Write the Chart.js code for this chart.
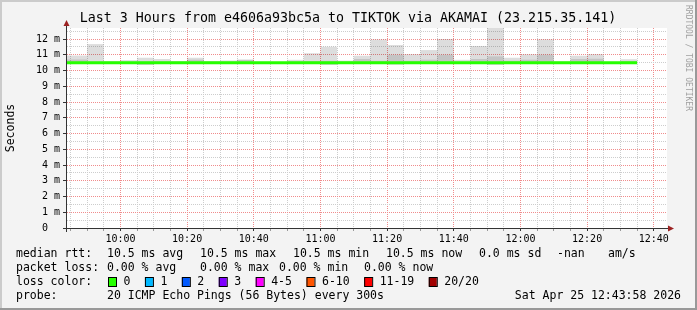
<!DOCTYPE html>
<html>
<head>
<meta charset="utf-8">
<script src="https://cdn.jsdelivr.net/npm/chart.js@4.4.1/dist/chart.umd.min.js"></script>
<style>
  html, body { margin: 0; padding: 0; background: #f3f3f3; }
  #wrap { width: 697px; height: 310px; }
</style>
</head>
<body>
<div id="wrap"><canvas id="chartSmoke" width="697" height="310"></canvas></div>
<script>
// time window of the graph
const startTime = '9:43:58';
const endTime = '12:43:58';

// one entry per 5 minute rrd step (start of the step)
const slotStart = [
    '9:40', '9:45', '9:50', '9:55', '10:00', '10:05', '10:10', '10:15', '10:20', '10:25',
    '10:30', '10:35', '10:40', '10:45', '10:50', '10:55', '11:00', '11:05', '11:10', '11:15',
    '11:20', '11:25', '11:30', '11:35', '11:40', '11:45', '11:50', '11:55', '12:00', '12:05',
    '12:10', '12:15', '12:20', '12:25', '12:30'
];
// smoke (ms): lowest ping, highest ping, top of the denser core
const smokeLo = [
    10.44, 10.44, 10.44, 10.44, 10.44, 10.37, 10.44, 10.44, 10.44, 10.44,
    10.44, 10.44, 10.44, 10.44, 10.44, 10.44, 10.37, 10.44, 10.44, 10.44,
    10.38, 10.44, 10.44, 10.44, 10.44, 10.44, 10.37, 10.44, 10.44, 10.44,
    10.44, 10.44, 10.44, 10.44, 10.44
];
const smokeHi = [
    10.95, 10.95, 11.68, 10.60, 10.66, 10.81, 10.73, 10.60, 10.81, 10.60,
    10.64, 10.69, 10.56, 10.53, 10.68, 11.10, 11.51, 10.63, 10.94, 11.97,
    11.62, 11.04, 11.30, 12.00, 10.68, 11.56, 12.75, 10.81, 11.03, 11.98,
    10.58, 10.94, 11.04, 10.55, 10.72
];
const coreHi = [
    10.70, 10.70, 10.56, 10.52, 10.56, 10.58, 10.58, 10.55, 10.69, 10.55,
    10.56, 10.69, 10.54, 10.52, 10.58, 10.60, 10.62, 10.58, 10.73, 10.62,
    11.00, 10.62, 10.69, 11.00, 10.56, 10.73, 10.90, 10.62, 10.69, 11.00,
    10.55, 10.73, 10.75, 10.53, 10.60
];
const medianRtt = [
    10.5, 10.5, 10.5, 10.5, 10.5, 10.5, 10.5, 10.5, 10.5, 10.5,
    10.5, 10.5, 10.5, 10.5, 10.5, 10.5, 10.5, 10.5, 10.5, 10.5,
    10.5, 10.5, 10.5, 10.5, 10.5, 10.5, 10.5, 10.5, 10.5, 10.5,
    10.5, 10.5, 10.5, 10.5, 10.5
];

const xTickLabels = ['10:00', '10:20', '10:40', '11:00', '11:20', '11:40', '12:00', '12:20', '12:40'];
const yTickLabels = ['0', '1 m', '2 m', '3 m', '4 m', '5 m', '6 m', '7 m', '8 m', '9 m', '10 m', '11 m', '12 m'];
const yMax = 12.7;

const lossLabels = ['0', '1', '2', '3', '4-5', '6-10', '11-19', '20/20'];
const lossColors = ['#26ff00', '#00b8ff', '#0059ff', '#7e00ff', '#ff00ff', '#ff5500', '#ff0000', '#a10000'];

const FONT = '"DejaVu Sans Mono", monospace';
const SLOT = 5;
const W = 697, H = 310;
const MAJOR_GRID = 'rgb(240,140,140)';
const MINOR_GRID = 'rgb(205,205,205)';

function toMin(s) {
    const p = s.split(':').map(Number);
    return p[0] * 60 + p[1] + (p[2] || 0) / 60;
}

function isMajorY(v) {
    return Math.abs(v - Math.round(v)) < 1e-6;
}

const xTickMins = xTickLabels.map(toMin);

const smokeOuter = slotStart.map((t, i) => ({ x: toMin(t) + SLOT / 2, y: [smokeLo[i], smokeHi[i]] }));
const smokeCore = slotStart.map((t, i) => ({ x: toMin(t) + SLOT / 2, y: [smokeLo[i], coreHi[i]] }));
const medianPts = slotStart.map((t, i) => ({ x: toMin(t), y: medianRtt[i] }));
medianPts.push({ x: toMin(slotStart[slotStart.length - 1]) + SLOT, y: medianRtt[medianRtt.length - 1] });

// background, axes, arrows and the rrdtool style text block
const rrdFrame = {
    id: 'rrdFrame',
    beforeDraw(chart) {
        const { ctx, chartArea: a } = chart;
        ctx.save();
        ctx.fillStyle = '#f3f3f3';
        ctx.fillRect(0, 0, W, H);
        ctx.fillStyle = '#cbcbcb';
        ctx.fillRect(0, 0, W, 2);
        ctx.fillRect(0, 0, 2, H);
        ctx.fillStyle = '#999999';
        ctx.fillRect(0, H - 2, W, 2);
        ctx.fillRect(W - 2, 0, 2, H);
        ctx.fillStyle = '#ffffff';
        ctx.fillRect(a.left, a.top, a.right - a.left, a.bottom - a.top);
        ctx.restore();
    },
    afterDraw(chart) {
        const { ctx, chartArea: a } = chart;
        ctx.save();
        // axes
        ctx.strokeStyle = '#333333';
        ctx.lineWidth = 1;
        ctx.beginPath();
        ctx.moveTo(a.left - 0.5, a.bottom + 4);
        ctx.lineTo(a.left - 0.5, a.top - 5);
        ctx.moveTo(a.left - 4, a.bottom + 0.5);
        ctx.lineTo(a.right + 4, a.bottom + 0.5);
        ctx.stroke();
        ctx.fillStyle = '#9c2222';
        ctx.beginPath();
        ctx.moveTo(a.left - 0.5, a.top - 8);
        ctx.lineTo(a.left - 3.5, a.top - 2);
        ctx.lineTo(a.left + 2.5, a.top - 2);
        ctx.closePath();
        ctx.fill();
        ctx.beginPath();
        ctx.moveTo(a.right + 7, a.bottom + 0.5);
        ctx.lineTo(a.right + 1, a.bottom - 2.5);
        ctx.lineTo(a.right + 1, a.bottom + 3.5);
        ctx.closePath();
        ctx.fill();

        // title
        ctx.fillStyle = '#000';
        ctx.textBaseline = 'middle';
        ctx.textAlign = 'center';
        ctx.font = '13.3px ' + FONT;
        ctx.fillText('Last 3 Hours from e4606a93bc5a to TIKTOK via AKAMAI (23.215.35.141)', 348, 19);

        // watermark
        ctx.save();
        ctx.translate(688, 5);
        ctx.rotate(Math.PI / 2);
        ctx.textAlign = 'left';
        ctx.font = '8px ' + FONT;
        ctx.fillStyle = '#a0a0a0';
        ctx.fillText('RRDTOOL / TOBI OETIKER', 0, 0);
        ctx.restore();

        // legend block
        ctx.textAlign = 'left';
        ctx.font = '11.5px ' + FONT;
        const rows = [
            [254, [[16, 'median rtt:'], [107, '10.5 ms avg'], [200, '10.5 ms max'], [293, '10.5 ms min'],
                   [386, '10.5 ms now'], [479, '0.0 ms sd'], [557, '-nan'], [608, 'am/s']]],
            [268, [[16, 'packet loss:'], [107, '0.00 % avg'], [200, '0.00 % max'], [279, '0.00 % min'], [364, '0.00 % now']]],
            [282, [[16, 'loss color:']]],
            [296, [[16, 'probe:'], [107, '20 ICMP Echo Pings (56 Bytes) every 300s']]]
        ];
        rows.forEach(([y, items]) => items.forEach(([x, t]) => ctx.fillText(t, x, y)));

        let x = 108;
        lossLabels.forEach((lab, i) => {
            ctx.fillStyle = lossColors[i];
            ctx.fillRect(x, 277.5, 8, 9);
            ctx.strokeStyle = '#000';
            ctx.strokeRect(x + 0.5, 277.5, 8, 9);
            ctx.fillStyle = '#000';
            ctx.fillText(lab, x + 15.5, 282);
            x += 15.5 + ctx.measureText(lab).width + 14.5;
        });

        ctx.textAlign = 'right';
        ctx.fillText('Sat Apr 25 12:43:58 2026', 681, 296);
        ctx.restore();
    }
};

const barCommon = {
    type: 'bar',
    borderWidth: 0,
    grouped: false,
    barPercentage: 1,
    categoryPercentage: 1,
    inflateAmount: 0,
    clip: 0
};

new Chart(document.getElementById('chartSmoke'), {
    type: 'bar',
    data: {
        datasets: [
            Object.assign({ label: 'smoke', data: smokeOuter, backgroundColor: 'rgba(0,0,0,0.135)', order: 3 }, barCommon),
            Object.assign({ label: 'smoke core', data: smokeCore, backgroundColor: 'rgba(0,0,0,0.11)', order: 2 }, barCommon),
            {
                type: 'line',
                label: 'median rtt',
                data: medianPts,
                borderColor: '#26ff00',
                borderWidth: 3,
                pointRadius: 0,
                stepped: true,
                clip: 0,
                order: 1
            }
        ]
    },
    options: {
        responsive: false,
        animation: false,
        devicePixelRatio: 1,
        layout: { padding: { top: 28, right: 30, bottom: 0, left: 0 } },
        plugins: {
            legend: { display: false },
            title: { display: false },
            tooltip: { enabled: false }
        },
        scales: {
            x: {
                type: 'linear',
                min: toMin(startTime),
                max: toMin(endTime),
                offset: false,
                afterBuildTicks: s => {
                    const t = [];
                    for (let v = toMin('9:45'); v <= toMin(endTime); v += SLOT) t.push({ value: v });
                    s.ticks = t;
                },
                afterFit: s => { s.height = 82; },
                grid: {
                    offset: false,
                    color: c => c.tick && c.tick.value % 20 === 0 ? MAJOR_GRID : MINOR_GRID,
                    tickColor: c => c.tick && c.tick.value % 20 === 0 ? '#333' : '#999',
                    tickLength: 3,
                    tickBorderDash: []
                },
                border: { display: false, dash: [1, 1] },
                ticks: {
                    autoSkip: false,
                    maxRotation: 0,
                    padding: 2,
                    color: '#000',
                    font: { family: FONT, size: 10 },
                    callback: v => {
                        const i = xTickMins.indexOf(v);
                        return i >= 0 ? xTickLabels[i] : '';
                    }
                }
            },
            y: {
                min: 0,
                max: yMax,
                afterBuildTicks: s => {
                    const t = [];
                    for (let v = 0; v < yMax; v += 0.5) t.push({ value: v });
                    s.ticks = t;
                },
                afterFit: s => { s.width = 67; },
                grid: {
                    color: c => c.tick && isMajorY(c.tick.value) ? MAJOR_GRID : MINOR_GRID,
                    tickColor: c => c.tick && isMajorY(c.tick.value) ? '#333' : 'rgba(0,0,0,0)',
                    tickLength: 4,
                    tickBorderDash: []
                },
                border: { display: false, dash: [1, 1] },
                ticks: {
                    autoSkip: false,
                    padding: 3,
                    color: '#000',
                    font: { family: FONT, size: 10 },
                    callback: v => isMajorY(v) ? (yTickLabels[Math.round(v)] || '').padEnd(3) : ''
                },
                title: {
                    display: true,
                    text: 'Seconds',
                    color: '#000',
                    font: { family: FONT, size: 11.5 },
                    padding: { top: 4, bottom: 4 }
                }
            }
        }
    },
    plugins: [rrdFrame]
});
</script>
</body>
</html>
